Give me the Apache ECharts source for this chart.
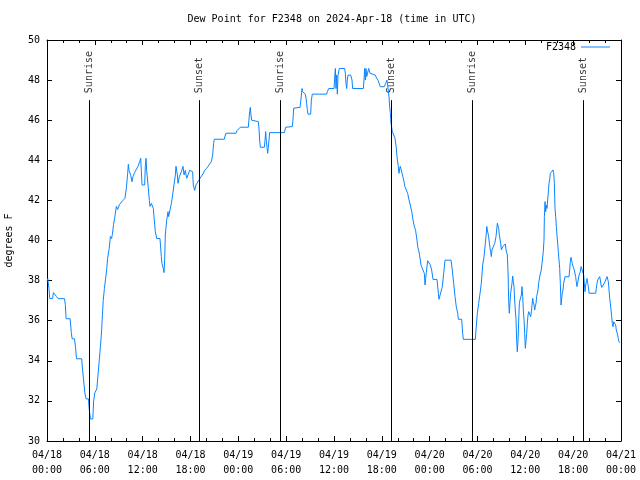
<!DOCTYPE html>
<html>
<head>
<meta charset="utf-8">
<script src="https://cdn.jsdelivr.net/npm/echarts@6/dist/echarts.min.js"></script>
<style>html,body{margin:0;padding:0;background:#fff;}#c{width:640px;height:480px;}</style>
</head>
<body>
<div id="c"></div>
<script>
// hours since 2024-04-18 00:00 UTC
const times = [0.0,0.1,0.25,0.35,0.7,0.8,1.05,1.2,1.4,2.2,2.3,2.4,2.9,3.05,3.15,3.45,3.6,3.7,4.35,4.45,4.6,4.75,4.9,5.2,5.25,5.35,5.45,5.75,5.85,6.0,6.25,6.4,6.55,6.7,6.85,6.95,7.05,7.2,7.35,7.5,7.6,7.8,7.95,8.1,8.2,8.35,8.5,8.7,8.86,8.95,9.1,9.28,9.53,9.78,9.95,10.12,10.2,10.29,10.5,10.66,10.79,11.0,11.2,11.41,11.62,11.75,11.83,11.92,12.25,12.33,12.42,12.5,12.67,12.84,12.92,13.09,13.26,13.34,13.42,13.59,13.76,14.17,14.34,14.42,14.59,14.68,14.76,14.84,15.01,15.18,15.26,15.43,15.6,15.76,15.93,16.1,16.18,16.35,16.43,16.6,16.85,17.06,17.19,17.35,17.52,17.69,17.9,18.1,18.27,18.35,18.52,18.69,18.94,19.19,19.44,19.61,19.78,20.03,20.2,20.45,20.61,20.78,20.9,20.99,22.24,22.33,22.45,23.7,23.83,24.25,25.25,25.33,25.42,25.5,25.59,25.67,25.76,26.5,26.59,26.67,26.76,27.26,27.35,27.43,27.51,27.6,27.68,27.76,27.93,29.77,29.94,30.77,30.86,30.94,31.74,31.82,31.99,32.07,32.24,32.4,32.49,32.57,32.65,32.74,33.07,33.16,33.28,35.08,35.16,35.33,36.0,36.08,36.17,36.25,36.33,36.42,36.5,36.67,37.34,37.42,37.5,37.59,37.67,37.76,38.09,38.26,38.34,39.68,39.76,39.85,39.93,40.01,40.1,40.27,40.35,40.52,40.68,41.18,41.35,41.52,41.65,41.81,42.31,42.48,42.65,42.73,42.82,42.9,42.98,43.07,43.15,43.32,43.49,43.65,43.82,43.9,44.07,44.15,44.24,44.32,44.57,44.74,44.9,45.07,45.24,45.41,45.57,45.75,45.91,46.08,46.24,46.41,46.5,46.66,46.83,46.91,47.16,47.33,47.42,47.5,47.58,47.75,47.92,48.08,48.25,48.42,48.92,49.09,49.17,49.42,49.59,49.76,49.92,50.68,50.84,51.01,51.18,51.34,51.52,51.6,52.02,52.05,52.14,52.22,53.73,53.81,53.98,54.15,54.32,54.48,54.65,54.82,54.9,55.07,55.16,55.24,55.4,55.49,55.65,55.73,55.82,55.99,56.16,56.32,56.49,56.66,56.74,56.91,56.99,57.16,57.32,57.49,57.58,57.74,57.83,57.91,57.99,58.08,58.16,58.33,58.41,58.5,58.58,58.66,58.74,58.83,58.91,58.99,59.08,59.17,59.25,59.33,59.5,59.58,59.67,59.75,59.84,59.92,60.0,60.09,60.17,60.25,60.34,60.42,60.5,60.59,60.67,60.75,60.84,60.92,61.0,61.09,61.17,61.25,61.34,61.42,61.59,61.67,61.84,62.0,62.17,62.25,62.34,62.39,62.47,62.55,62.64,62.72,62.8,62.89,62.97,63.05,63.14,63.31,63.39,63.47,63.56,63.64,63.72,63.81,63.89,63.97,64.06,64.14,64.22,64.31,64.39,64.48,64.56,64.64,64.72,64.81,64.89,64.97,65.48,65.56,65.64,65.73,65.81,65.89,65.98,66.06,66.14,66.23,66.31,66.39,66.48,66.56,66.64,66.74,66.9,66.99,67.15,67.24,67.32,67.4,67.49,67.57,67.66,67.74,67.82,67.91,67.99,68.83,68.91,68.99,69.08,69.16,69.33,69.41,69.5,69.58,69.75,69.91,70.08,70.25,70.33,70.41,70.5,70.58,70.66,70.75,70.83,70.91,71.0,71.08,71.16,71.25,71.33,71.41,71.5,71.58,71.66,71.75,71.85];
const dewPoints = [38.0,38.1,37.6,37.1,37.1,37.4,37.4,37.2,37.1,37.1,36.8,36.1,36.1,35.4,35.1,35.1,34.6,34.1,34.1,33.6,33.0,32.4,32.1,32.1,31.8,31.4,31.1,31.1,32.0,32.4,32.6,33.3,34.0,34.7,35.5,36.3,37.0,37.6,38.1,38.6,39.1,39.6,40.2,40.1,40.3,40.8,41.15,41.7,41.55,41.5,41.8,41.85,42.0,42.1,42.6,43.35,43.8,43.5,43.25,42.93,43.2,43.4,43.45,43.7,43.93,44.1,43.5,42.77,42.77,43.7,44.1,43.5,42.77,42.0,41.7,41.85,41.93,41.6,41.19,40.44,40.1,40.1,39.2,38.86,38.6,38.4,39.03,40.27,41.0,41.44,41.19,41.52,41.85,42.27,42.77,43.27,43.7,43.27,42.85,43.18,43.43,43.7,43.27,43.5,43.1,43.27,43.5,43.43,43.43,42.77,42.5,42.77,42.85,43.1,43.18,43.35,43.5,43.6,43.7,43.77,43.93,44.26,44.85,45.05,45.05,45.21,45.35,45.35,45.48,45.65,45.65,46.0,46.43,46.64,46.26,46.0,45.93,45.93,45.6,45.01,44.65,44.65,45.0,45.43,44.95,44.65,44.35,44.65,45.38,45.38,45.65,45.68,46.05,46.6,46.64,46.92,47.58,47.42,47.34,47.3,47.09,46.84,46.54,46.3,46.3,47.0,47.3,47.3,47.42,47.58,47.58,48.09,48.58,47.58,48.25,47.3,48.25,48.58,48.58,48.34,47.84,47.58,48.0,48.25,48.25,48.0,47.58,47.58,48.0,48.58,48.0,48.58,48.17,48.09,48.58,48.34,48.3,48.25,48.09,47.99,47.9,47.67,47.67,47.84,48.0,47.76,47.42,47.17,46.67,46.34,45.85,45.43,45.35,45.1,44.6,44.18,43.68,43.35,43.6,43.7,43.7,43.02,42.68,42.6,42.35,42.02,41.77,41.44,41.02,40.7,40.49,40.02,39.7,39.44,39.03,38.78,38.53,38.36,37.78,38.11,38.4,38.99,38.9,38.78,38.53,38.06,38.06,37.37,37.07,37.07,37.7,38.36,39.02,39.02,38.53,37.86,37.2,36.7,36.37,36.07,36.07,35.87,35.37,35.07,35.07,35.54,36.37,36.87,37.37,37.87,38.78,39.19,39.53,40.19,40.7,40.52,40.19,39.86,39.44,39.2,39.53,39.61,39.86,40.19,40.86,40.6,40.27,39.86,39.53,39.69,39.7,39.83,39.53,39.28,38.44,37.03,36.37,36.95,37.37,37.87,38.23,37.95,37.7,37.03,36.53,36.07,35.04,34.45,34.95,36.03,36.87,37.03,37.28,37.7,37.2,36.53,36.03,35.37,34.62,35.04,35.37,35.87,36.28,36.45,36.53,36.37,36.2,36.45,36.78,37.12,36.95,36.78,36.53,36.7,36.87,37.2,37.53,37.87,38.28,38.53,38.56,39.44,40.02,41.19,41.94,41.44,41.77,41.6,42.02,42.43,42.85,43.02,43.35,43.27,43.43,43.52,43.35,42.85,41.6,41.19,40.7,40.27,39.86,39.44,39.03,38.6,37.86,36.78,37.12,37.37,37.53,37.87,38.03,38.19,38.19,38.53,38.94,39.16,39.03,38.86,38.7,38.78,38.53,38.44,38.2,37.95,37.7,37.87,37.95,38.28,38.44,38.7,38.61,38.73,38.28,37.87,37.45,37.78,37.95,38.11,37.87,37.7,37.37,37.37,37.62,37.87,38.03,38.11,38.2,38.03,37.78,37.66,37.66,37.87,38.03,38.2,38.28,37.95,37.53,37.12,36.87,36.53,36.2,35.87,35.7,35.95,35.87,35.95,35.79,35.54,35.45,35.29,35.12,34.95,34.9];

const eventTimes = [5.31, 19.1, 29.27, 43.19, 53.35, 67.27];
const eventNames = ['Sunrise', 'Sunset', 'Sunrise', 'Sunset', 'Sunrise', 'Sunset'];
const eventTop = 47;

const xTickLabels = ['04/18\n00:00','04/18\n06:00','04/18\n12:00','04/18\n18:00','04/19\n00:00','04/19\n06:00','04/19\n12:00','04/19\n18:00','04/20\n00:00','04/20\n06:00','04/20\n12:00','04/20\n18:00','04/21\n00:00'];
const xStepHours = 6;
const yMin = 30, yMax = 50, yStep = 2;

const seriesName = 'F2348';
const titleText = 'Dew Point for F2348 on 2024-Apr-18 (time in UTC)';
const yAxisName = 'degrees F';

const FONT = 'DejaVu Sans Mono';
const lineColor = '#0a84ff';

const lineData = times.map((t, i) => [t, dewPoints[i]]);
const markData = eventTimes.map(t => [{coord: [t, yMin]}, {coord: [t, eventTop]}]);
const labelData = eventTimes.map((t, i) => ({value: [t, eventTop], name: eventNames[i]}));

const xMax = (xTickLabels.length - 1) * xStepHours;

const chart = echarts.init(document.getElementById('c'), null, {renderer: 'canvas'});
const axisLineStyle = {color: '#000', width: 1};
chart.setOption({
  animation: false,
  backgroundColor: '#fff',
  textStyle: {fontFamily: FONT},
  title: {
    text: titleText,
    left: 332, top: 14, textAlign: 'center',
    padding: 0,
    textStyle: {fontFamily: FONT, fontSize: 10, fontWeight: 'normal', color: '#000'}
  },
  legend: {
    data: [seriesName],
    right: 30, top: 42,
    align: 'right',
    icon: 'rect',
    itemWidth: 29, itemHeight: 1,
    itemGap: 5,
    padding: 0,
    textStyle: {fontFamily: FONT, fontSize: 10, color: '#000'}
  },
  grid: {left: 47, right: 19, top: 40, bottom: 39, containLabel: false, outerBoundsMode: 'none'},
  xAxis: [{
    type: 'value', min: 0, max: xMax, interval: xStepHours,
    axisLine: {show: true, lineStyle: axisLineStyle},
    axisTick: {show: true, inside: true, length: 5, lineStyle: axisLineStyle},
    minorTick: {show: true, splitNumber: 3, length: 3, lineStyle: axisLineStyle},
    splitLine: {show: false},
    axisLabel: {
      margin: 7, fontFamily: FONT, fontSize: 10, color: '#000', lineHeight: 15,
      formatter: v => xTickLabels[Math.round(v / xStepHours)] || ''
    }
  }, {
    type: 'value', position: 'top', min: 0, max: xMax, interval: xStepHours,
    axisLine: {show: true, onZero: false, lineStyle: axisLineStyle},
    axisTick: {show: true, inside: true, length: 5, lineStyle: axisLineStyle},
    minorTick: {show: true, splitNumber: 3, length: 3, lineStyle: axisLineStyle},
    splitLine: {show: false},
    axisLabel: {show: false}
  }],
  yAxis: [{
    type: 'value', min: yMin, max: yMax, interval: yStep,
    name: yAxisName, nameLocation: 'middle', nameGap: 33,
    nameTextStyle: {fontFamily: FONT, fontSize: 10, color: '#000'},
    axisLine: {show: true, onZero: false, lineStyle: axisLineStyle},
    axisTick: {show: true, inside: true, length: 5, lineStyle: axisLineStyle},
    splitLine: {show: false},
    axisLabel: {margin: 7, fontFamily: FONT, fontSize: 10, color: '#000'}
  }, {
    type: 'value', position: 'right', min: yMin, max: yMax, interval: yStep,
    axisLine: {show: true, onZero: false, lineStyle: axisLineStyle},
    axisTick: {show: true, inside: true, length: 5, lineStyle: axisLineStyle},
    splitLine: {show: false},
    axisLabel: {show: false}
  }],
  series: [{
    name: seriesName,
    type: 'line',
    xAxisIndex: 0, yAxisIndex: 0,
    data: lineData,
    showSymbol: false,
    symbol: 'none',
    lineStyle: {color: lineColor, width: 1},
    itemStyle: {color: lineColor},
    z: 3,
    markLine: {
      silent: true,
      symbol: ['none', 'none'],
      label: {show: false},
      lineStyle: {color: '#000', width: 1, type: 'solid'},
      data: markData
    }
  }, {
    name: 'events',
    type: 'scatter',
    xAxisIndex: 0, yAxisIndex: 0,
    data: labelData,
    symbolSize: 0,
    silent: true,
    label: {
      show: true,
      position: 'top',
      distance: 7,
      rotate: 90,
      align: 'left',
      verticalAlign: 'middle',
      formatter: p => p.name,
      fontFamily: FONT, fontSize: 10, color: '#000'
    }
  }]
});
</script>
</body>
</html>
